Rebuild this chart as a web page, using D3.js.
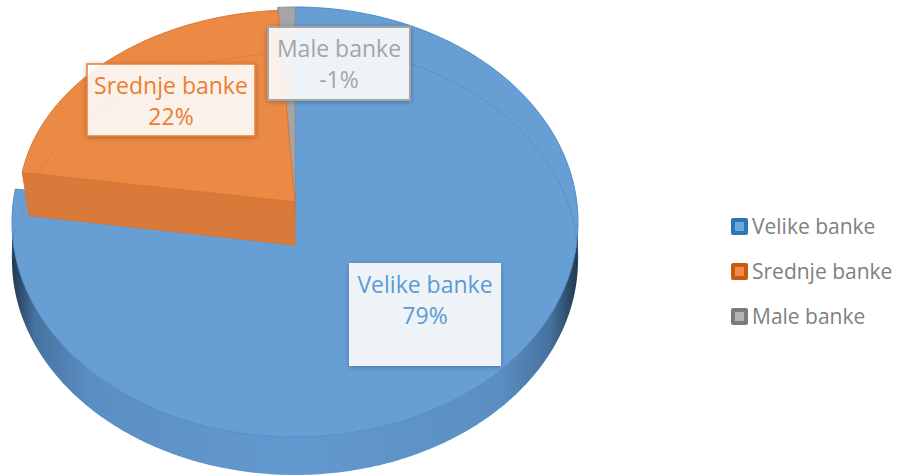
<!DOCTYPE html>
<html>
<head>
<meta charset="utf-8">
<script src="https://cdn.jsdelivr.net/npm/d3@7"></script>
<style>
  body { margin: 0; background: #fff; }
  svg { display: block; font-family: "Open Sans", sans-serif; }
</style>
</head>
<body>
<div id="chart"></div>
<script>
// data
const categories = ["Velike banke", "Srednje banke", "Male banke"];
const shares = [79, 22, -1];               // % as printed in the data labels

// colours
const topColors = ["#679fd5", "#eb8a45", "#a5a5a5"];
const edgeColors = ["#4f8bc9", "#dc7330", "#949494"];
const labelColors = ["#5b9bd5", "#ed7d31", "#a5a5a5"];
const legendOuter = ["#2e75b6", "#c55a11", "#7b7b7b"];
const legendInner = ["#6fa8dc", "#f08b4b", "#b4b4b4"];

const width = 900, height = 476;

// pie ellipse (3d look), orange slice is exploded
const base = { cx: 295, cy: 222, rx: 283, ry: 215, depth: 38 };
const exploded = { cx: 295, cy: 202, rx: 276, ry: 192, depth: 43 };
const explodedIdx = 1;

// label boxes: x, y, w, h
const labelBoxes = [
  { x: 349, y: 263, w: 152, h: 103, stroke: 0 },
  { x: 87, y: 64, w: 168, h: 72, stroke: 1.5 },
  { x: 268, y: 27, w: 142, h: 73, stroke: 2 }
];

const svg = d3.select("#chart").append("svg")
  .attr("width", width)
  .attr("height", height);

const defs = svg.append("defs");

// side shading: dark at the edges, lighter in the middle
const sideGrad = defs.append("linearGradient")
  .attr("id", "sideGrad")
  .attr("gradientUnits", "userSpaceOnUse")
  .attr("x1", base.cx - base.rx).attr("x2", base.cx + base.rx)
  .attr("y1", 0).attr("y2", 0);
[[0, "#22384f"], [0.04, "#46729f"], [0.14, "#5b8fc3"], [0.5, "#6299ce"],
 [0.86, "#5b8fc3"], [0.95, "#46729f"], [1, "#22384f"]].forEach(s => {
  sideGrad.append("stop").attr("offset", s[0]).attr("stop-color", s[1]);
});

const shadow = defs.append("filter")
  .attr("id", "shadow")
  .attr("x", "-20%").attr("y", "-20%")
  .attr("width", "140%").attr("height", "140%");
shadow.append("feDropShadow")
  .attr("dx", 0).attr("dy", 1)
  .attr("stdDeviation", 2.5)
  .attr("flood-color", "#000")
  .attr("flood-opacity", 0.3);

const pie = d3.pie().sort(null).value(d => Math.abs(d));
const arcs = pie(shares);

function geomOf(i) { return i === explodedIdx ? exploded : base; }

function arcPoints(g, a0, a1, dy) {
  const n = Math.max(2, Math.ceil(Math.abs(a1 - a0) / 0.01));
  return d3.range(n + 1).map(k => {
    const a = a0 + (a1 - a0) * k / n;
    return [g.cx + g.rx * Math.sin(a), g.cy + dy - g.ry * Math.cos(a)];
  });
}

const line = d3.line();
const chart = svg.append("g");

// front wall of the big slice
arcs.forEach((d, i) => {
  const g = geomOf(i);
  const a0 = Math.max(d.startAngle, Math.PI / 2);
  const a1 = Math.min(d.endAngle, 3 * Math.PI / 2);
  if (a1 <= a0) return;
  const pts = arcPoints(g, a0, a1, 0).concat(arcPoints(g, a1, a0, g.depth));
  chart.append("path")
    .attr("d", line(pts) + "Z")
    .attr("fill", "url(#sideGrad)");
});

// top faces (non exploded first)
const order = d3.range(arcs.length).sort((a, b) => (a === explodedIdx) - (b === explodedIdx));

order.forEach(i => {
  const d = arcs[i];
  const g = geomOf(i);

  // cut face facing the viewer (start edge of the exploded slice)
  if (i === explodedIdx) {
    const p = [g.cx + g.rx * Math.sin(d.startAngle), g.cy - g.ry * Math.cos(d.startAngle)];
    chart.append("path")
      .attr("d", line([[g.cx, g.cy], p, [p[0] + 7, p[1] + g.depth], [g.cx, g.cy + g.depth]]) + "Z")
      .attr("fill", "#d9793a")
      .attr("stroke", edgeColors[i])
      .attr("stroke-width", 1);
  }

  const pts = [[g.cx, g.cy]].concat(arcPoints(g, d.startAngle, d.endAngle, 0));
  chart.append("path")
    .attr("d", line(pts) + "Z")
    .attr("fill", topColors[i])
    .attr("stroke", edgeColors[i])
    .attr("stroke-width", 1);

  // faint back edge of the base seen through the top
  const b0 = d.startAngle, b1 = d.endAngle;
  const backSegs = [[Math.max(b0, 0), Math.min(b1, Math.PI / 2)],
                    [Math.max(b0, 3 * Math.PI / 2), Math.min(b1, 2 * Math.PI)]];
  backSegs.forEach(s => {
    if (s[1] - s[0] < 0.02) return;
    chart.append("path")
      .attr("d", line(arcPoints(g, s[0], s[1], g.depth)))
      .attr("fill", "none")
      .attr("stroke", i === 0 ? "rgba(70,125,185,0.45)" : "rgba(215,110,45,0.45)")
      .attr("stroke-width", 1);
  });
});

// data labels
const labels = svg.append("g");
arcs.forEach((d, i) => {
  const b = labelBoxes[i];
  labels.append("rect")
    .attr("x", b.x).attr("y", b.y)
    .attr("width", b.w).attr("height", b.h)
    .attr("fill", "#ffffff")
    .attr("fill-opacity", 0.88)
    .attr("stroke", b.stroke ? labelColors[i] : "none")
    .attr("stroke-width", b.stroke)
    .attr("filter", "url(#shadow)");
  const t = labels.append("text")
    .attr("text-anchor", "middle")
    .attr("fill", labelColors[i])
    .style("font-size", "23px");
  t.append("tspan").attr("x", b.x + b.w / 2).attr("y", b.y + 30).text(categories[i]);
  t.append("tspan").attr("x", b.x + b.w / 2).attr("y", b.y + 61).text(`${shares[i]}%`);
});

// legend
const legend = svg.append("g").attr("transform", "translate(731,218)");
categories.forEach((c, i) => {
  const row = legend.append("g").attr("transform", `translate(0,${i * 45})`);
  row.append("rect")
    .attr("width", 17).attr("height", 17).attr("rx", 2)
    .attr("fill", legendOuter[i]);
  row.append("rect")
    .attr("x", 4).attr("y", 4)
    .attr("width", 9).attr("height", 9)
    .attr("fill", legendInner[i]);
  row.append("text")
    .attr("x", 21).attr("y", 16)
    .attr("fill", "#7f7f7f")
    .style("font-size", "21px")
    .text(c);
});
</script>
</body>
</html>
